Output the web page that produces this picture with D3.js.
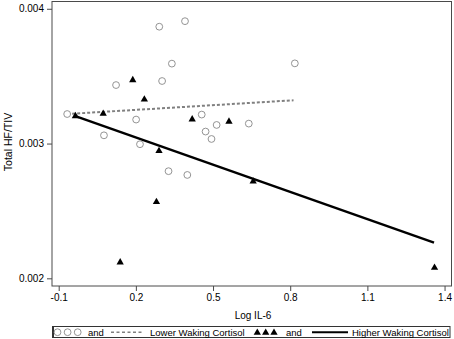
<!DOCTYPE html>
<html>
<head>
<meta charset="utf-8">
<script src="https://cdn.jsdelivr.net/npm/d3@7"></script>
<style>
  body { margin: 0; background: #fff; }
  text { font-family: "Liberation Sans", Arial, sans-serif; fill: #000; }
</style>
</head>
<body>
<div id="plot"></div>
<script>
// Lower waking cortisol (open circles)
var lowX = [-0.067, 0.291, 0.391, 0.340, 0.302, 0.123, 0.201, 0.076, 0.216, 0.456,
            0.471, 0.494, 0.514, 0.818, 0.639, 0.327, 0.400]
var lowY = [0.003219, 0.003867, 0.003908, 0.003593, 0.003464, 0.003434, 0.003178, 0.003061, 0.002995, 0.003215,
            0.003089, 0.003034, 0.003138, 0.003595, 0.003148, 0.002795, 0.002767]

// Higher waking cortisol (filled triangles)
var highX = [-0.035, 0.073, 0.188, 0.233, 0.290, 0.419, 0.562, 0.280, 0.139, 0.656, 1.361]
var highY = [0.003204, 0.003222, 0.003471, 0.003328, 0.002945, 0.003180, 0.003163, 0.002567, 0.002119, 0.002719, 0.002079]

// fit line end points
var lowFitX = [-0.067, 0.813]
var lowFitY = [0.003219, 0.003321]
var highFitX = [-0.035, 1.359]
var highFitY = [0.003204, 0.002264]

var xTicks = [-0.1, 0.2, 0.5, 0.8, 1.1, 1.4]
var yTicks = [0.002, 0.003, 0.004]

var W = 454, H = 339
var plot = { left: 52, right: 451.5, top: 1.5, bottom: 286 }

var svg = d3.select("#plot")
  .append("svg")
  .attr("width", W)
  .attr("height", H)

var xScale = d3.scaleLinear()
  .domain([-0.126, 1.427])
  .range([plot.left, plot.right])

var yScale = d3.scaleLinear()
  .domain([0.001943, 0.004054])
  .range([plot.bottom, plot.top])

// frame
svg.append("rect")
  .attr("x", plot.left)
  .attr("y", plot.top)
  .attr("width", plot.right - plot.left)
  .attr("height", plot.bottom - plot.top)
  .attr("fill", "none")
  .attr("stroke", "#4a4a4a")
  .attr("stroke-width", 1)

var xAxis = svg.append("g")
  .attr("transform", "translate(0," + plot.bottom + ")")
  .call(d3.axisBottom(xScale).tickValues(xTicks).tickSize(5).tickPadding(3)
    .tickFormat(d => d3.format(".1f")(d).replace("−", "-")))
xAxis.select(".domain").remove()
xAxis.selectAll("line").attr("stroke", "#4a4a4a")
xAxis.selectAll("text").style("font-size", "10px").attr("fill", "#000")

var yAxis = svg.append("g")
  .attr("transform", "translate(" + plot.left + ",0)")
  .call(d3.axisLeft(yScale).tickValues(yTicks).tickSize(5).tickPadding(3)
    .tickFormat(d3.format(".3f")))
yAxis.select(".domain").remove()
yAxis.selectAll("line").attr("stroke", "#4a4a4a")
yAxis.selectAll("text").style("font-size", "10px").attr("fill", "#000")

// axis titles
svg.append("text")
  .attr("x", 253)
  .attr("y", 319)
  .attr("text-anchor", "middle")
  .style("font-size", "10px")
  .text("Log IL-6")

svg.append("text")
  .attr("transform", "translate(12," + 142 + ") rotate(-90)")
  .attr("text-anchor", "middle")
  .style("font-size", "10.5px")
  .text("Total HF/TIV")

// fit lines
var line = d3.line()
  .x(d => xScale(d[0]))
  .y(d => yScale(d[1]))

svg.append("path")
  .datum(d3.zip(lowFitX, lowFitY))
  .attr("d", line)
  .attr("fill", "none")
  .attr("stroke", "#808080")
  .attr("stroke-width", 2)
  .attr("stroke-dasharray", "3,2")

svg.append("path")
  .datum(d3.zip(highFitX, highFitY))
  .attr("d", line)
  .attr("fill", "none")
  .attr("stroke", "#000")
  .attr("stroke-width", 2.4)

// points
svg.append("g")
  .selectAll("circle")
  .data(d3.zip(lowX, lowY))
  .enter()
  .append("circle")
  .attr("cx", d => xScale(d[0]))
  .attr("cy", d => yScale(d[1]))
  .attr("r", 3.4)
  .attr("fill", "#fff")
  .attr("stroke", "#888")
  .attr("stroke-width", 0.9)

var tri = d3.symbol().type(d3.symbolTriangle).size(23)

svg.append("g")
  .selectAll("path")
  .data(d3.zip(highX, highY))
  .enter()
  .append("path")
  .attr("d", tri)
  .attr("transform", d => "translate(" + xScale(d[0]) + "," + yScale(d[1]) + ")")
  .attr("fill", "#000")

// legend
var lg = svg.append("g")
lg.append("rect")
  .attr("x", 52.5).attr("y", 326.5)
  .attr("width", 397.5).attr("height", 11)
  .attr("fill", "#fff")
  .attr("stroke", "#333")
  .attr("stroke-width", 1)
lg.append("line")
  .attr("x1", 53.5).attr("x2", 53.5)
  .attr("y1", 326.5).attr("y2", 337.5)
  .attr("stroke", "#333")
  .attr("stroke-width", 1)

var legY = 332.2
lg.selectAll("circle")
  .data([57.5, 67.6, 77.7])
  .enter()
  .append("circle")
  .attr("cx", d => d).attr("cy", legY)
  .attr("r", 3.4)
  .attr("fill", "#fff")
  .attr("stroke", "#888")
  .attr("stroke-width", 0.9)

lg.append("line")
  .attr("x1", 111).attr("x2", 143)
  .attr("y1", legY).attr("y2", legY)
  .attr("stroke", "#808080")
  .attr("stroke-width", 1.6)
  .attr("stroke-dasharray", "3,2.5")

lg.selectAll("path.tri")
  .data([257.3, 265.7, 274])
  .enter()
  .append("path")
  .attr("class", "tri")
  .attr("d", tri)
  .attr("transform", d => "translate(" + d + "," + (legY + 0.5) + ")")
  .attr("fill", "#000")

lg.append("line")
  .attr("x1", 312).attr("x2", 348)
  .attr("y1", legY).attr("y2", legY)
  .attr("stroke", "#000")
  .attr("stroke-width", 2)

var legText = [[88, "and"], [150, "Lower Waking Cortisol"], [286, "and"], [352, "Higher Waking Cortisol"]]
lg.selectAll("text")
  .data(legText)
  .enter()
  .append("text")
  .attr("x", d => d[0])
  .attr("y", 335.6)
  .style("font-size", "9.5px")
  .text(d => d[1])
</script>
</body>
</html>
